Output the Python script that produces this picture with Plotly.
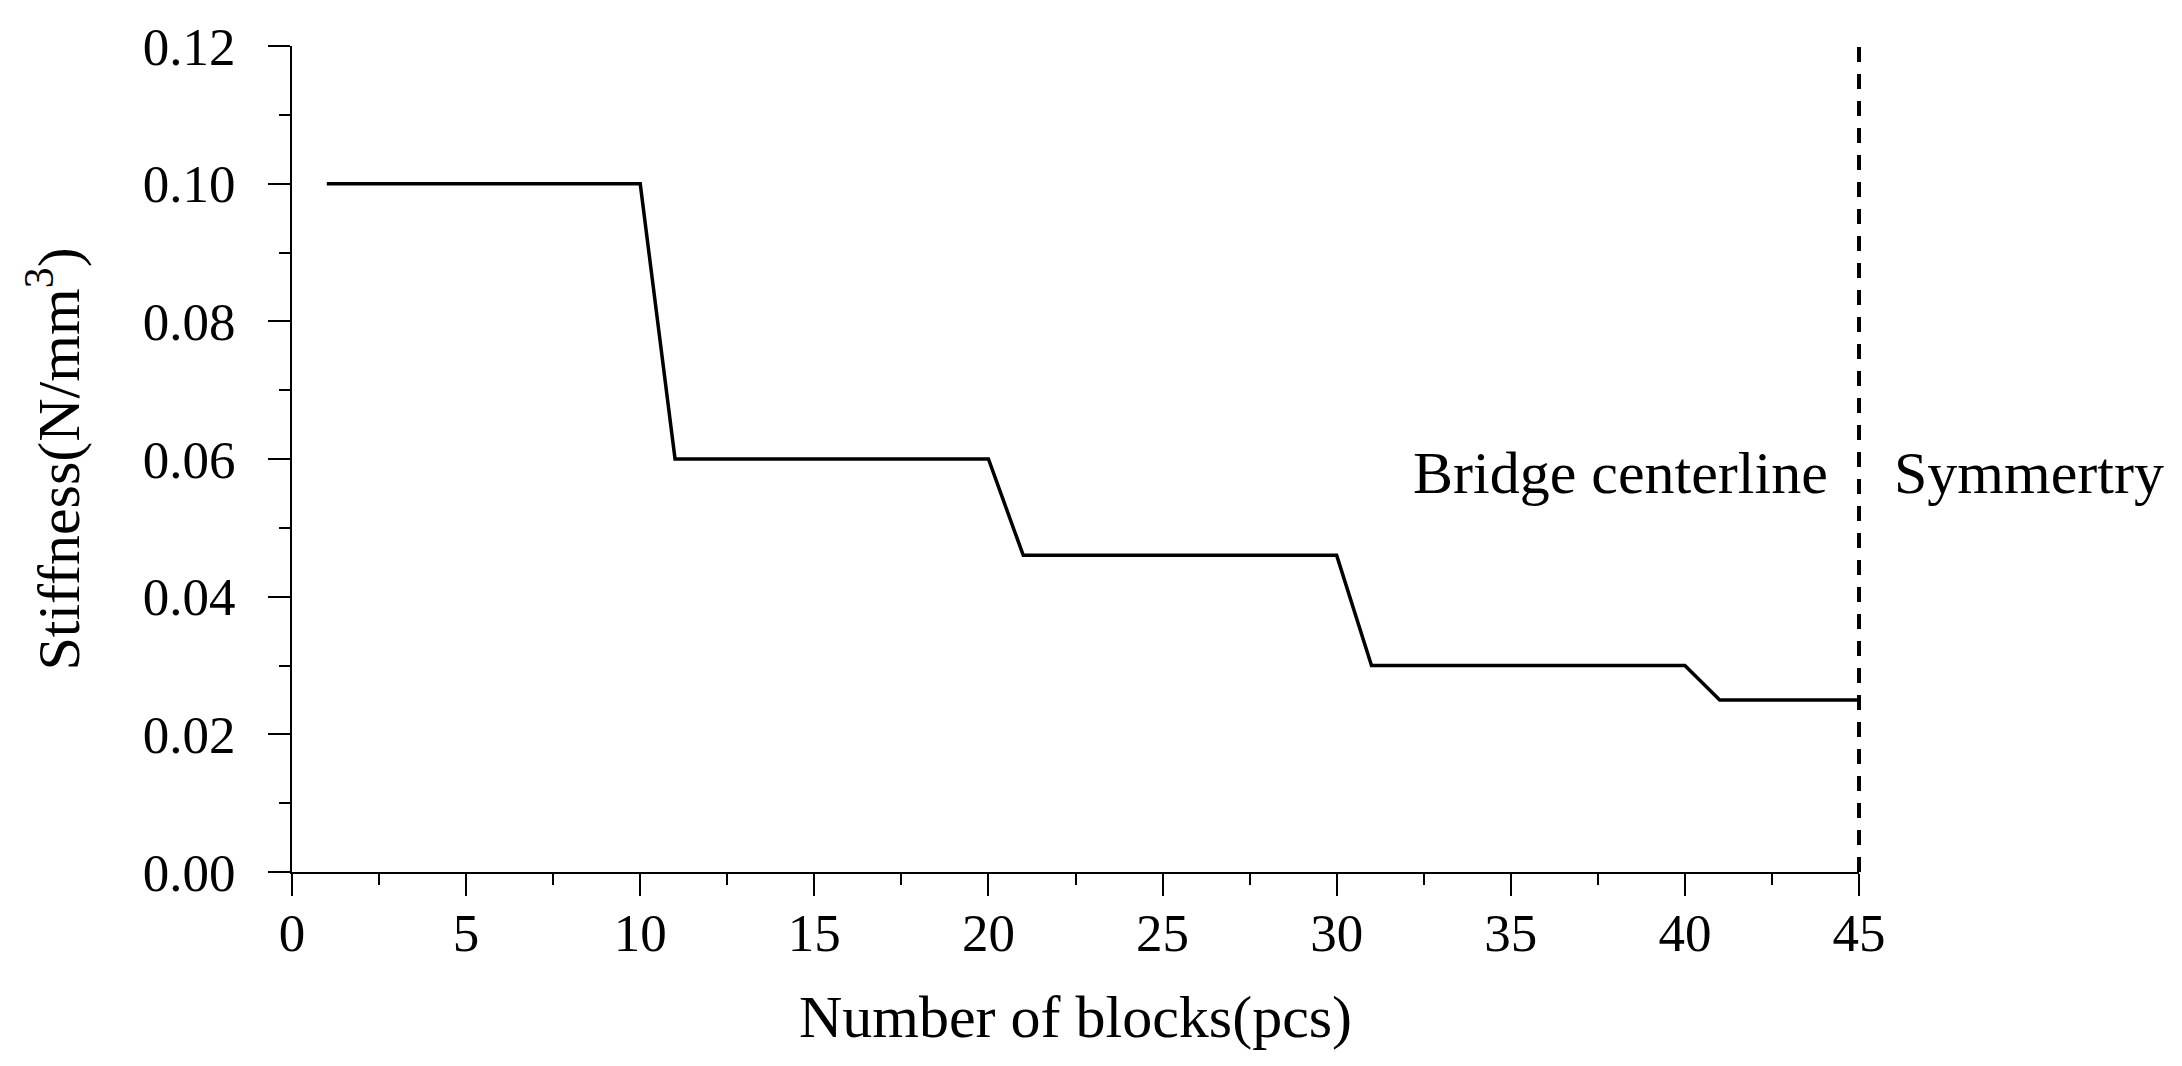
import plotly.graph_objects as go

# Data
blocks = list(range(1, 46))
stiffness = [0.10] * 10 + [0.06] * 10 + [0.046] * 10 + [0.03] * 10 + [0.025] * 5
x_ticks = [0, 5, 10, 15, 20, 25, 30, 35, 40, 45]
y_ticks = [0.00, 0.02, 0.04, 0.06, 0.08, 0.10, 0.12]
x_range = [0, 45]
y_range = [0, 0.12]
centerline_x = 45
label_left = "Bridge centerline"
label_right = "Symmertry"
x_title = "Number of blocks(pcs)"
y_title = "Stiffness(N/mm<sup>3</sup>)"

FONT = "Liberation Serif"
FS = 53      # tick labels
FT = 60      # titles and annotations

fig = go.Figure()
fig.add_trace(go.Scatter(
    x=blocks, y=stiffness, mode="lines",
    line=dict(color="black", width=3.5),
    showlegend=False, hoverinfo="skip",
))

# centerline sits on the right edge of the x range -> place in paper coords to avoid clipping
cx_paper = (centerline_x - x_range[0]) / (x_range[1] - x_range[0])
fig.add_shape(type="line", x0=cx_paper, x1=cx_paper, y0=y_range[0], y1=y_range[1],
              xref="paper", yref="y", layer="above",
              line=dict(color="black", width=4, dash="15px,12px"))

fig.add_annotation(x=centerline_x, y=0.058, xref="x", yref="y",
                   text=label_left, showarrow=False, xanchor="right", yanchor="middle",
                   xshift=-29, font=dict(family=FONT, size=FT, color="black"))
fig.add_annotation(x=centerline_x, y=0.058, xref="x", yref="y",
                   text=label_right, showarrow=False, xanchor="left", yanchor="middle",
                   xshift=33, font=dict(family=FONT, size=FT, color="black"))

axis_common = dict(
    showgrid=False, zeroline=False, showline=True, linecolor="black", linewidth=2,
    ticks="outside", ticklen=22, tickwidth=2, tickcolor="black",
    tickfont=dict(family=FONT, size=FS, color="black"),
    mirror=False,
)

fig.update_xaxes(
    range=x_range, tickmode="array", tickvals=x_ticks,
    minor=dict(ticks="outside", ticklen=11, tickwidth=2, tickcolor="black", dtick=2.5, tick0=0),
    title=dict(text=x_title, font=dict(family=FONT, size=FT, color="black"), standoff=34),
    ticklabelstandoff=-9,
    **axis_common,
)
fig.update_yaxes(
    range=y_range, tickmode="array", tickvals=y_ticks, tickformat=".2f",
    minor=dict(ticks="outside", ticklen=11, tickwidth=2, tickcolor="black", dtick=0.01, tick0=0),
    title=dict(text=y_title, font=dict(family=FONT, size=FT, color="black"), standoff=44),
    ticklabelstandoff=22,
    **axis_common,
)

fig.update_layout(
    width=2182, height=1066,
    margin=dict(l=284, r=331, t=38, b=202, autoexpand=False),
    paper_bgcolor="white", plot_bgcolor="white",
)

fig.write_html("out.html")
